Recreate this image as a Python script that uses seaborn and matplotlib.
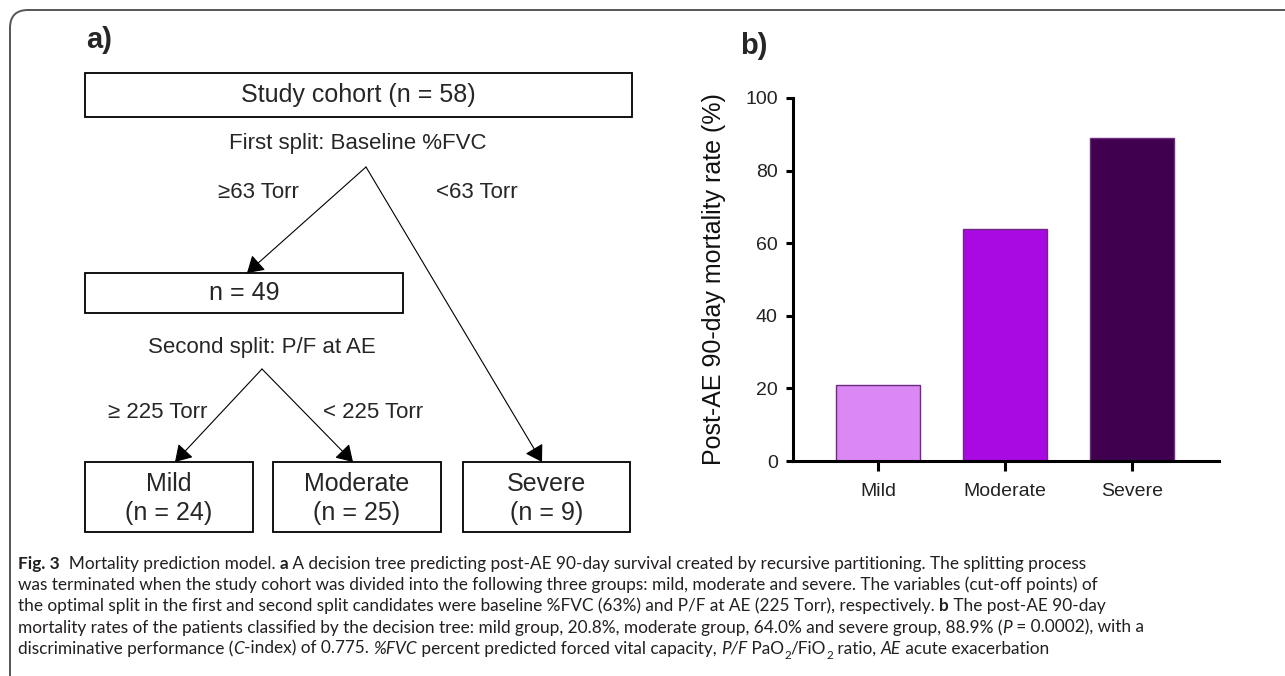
import numpy as np
import pandas as pd
import matplotlib
matplotlib.use("Agg")
import matplotlib.pyplot as plt
import seaborn as sns
from matplotlib.patches import Rectangle, PathPatch
from matplotlib.path import Path

# ---------------- data ----------------
groups = ["Mild", "Moderate", "Severe"]
mortality = [20.8, 64.0, 88.9]
group_n = [24, 25, 9]
bar_colors = ["#DC88F4", "#AA0AE2", "#40004F"]
y_ticks = [0, 20, 40, 60, 80, 100]
y_label = "Post-AE 90-day mortality rate (%)"

cohort_n = 58
node2_n = 49
split1_label = "First split: Baseline %FVC"
split1_branches = ["\u226563 Torr", "<63 Torr"]
split2_label = "Second split: P/F at AE"
split2_branches = ["\u2265 225 Torr", "< 225 Torr"]

caption_lines = [
    [("Fig. 3", "b"), ("  Mortality prediction model. ", "n"), ("a", "b"),
     (" A decision tree predicting post-AE 90-day survival created by recursive partitioning. The splitting process", "n")],
    [("was terminated when the study cohort was divided into the following three groups: mild, moderate and severe. The variables (cut-off points) of", "n")],
    [("the optimal split in the first and second split candidates were baseline %FVC (63%) and P/F at AE (225 Torr), respectively. ", "n"),
     ("b", "b"), (" The post-AE 90-day", "n")],
    [("mortality rates of the patients classified by the decision tree: mild group, 20.8%, moderate group, 64.0% and severe group, 88.9% (", "n"),
     ("P", "i"), (" = 0.0002), with a", "n")],
    [("discriminative performance (", "n"), ("C", "i"), ("-index) of 0.775. ", "n"), ("%FVC", "i"),
     (" percent predicted forced vital capacity, ", "n"), ("P/F", "i"), (" PaO", "n"), ("2", "sub"),
     ("/FiO", "n"), ("2", "sub"), (" ratio, ", "n"), ("AE", "i"), (" acute exacerbation", "n")],
]

# ---------------- style ----------------
sns.set_theme(style="white")
plt.rcParams["font.family"] = ["Liberation Sans", "DejaVu Sans"]
CAP_FAMILY = ["Lato", "DejaVu Sans"]
CAP_COLOR = "#231F20"

W, H = 1285, 676
fig = plt.figure(figsize=(W / 100, H / 100), dpi=100)
fig.patch.set_facecolor("white")

over = fig.add_axes([0, 0, 1, 1])
over.set_xlim(0, W)
over.set_ylim(H, 0)
over.axis("off")

# frame (rounded top-left corner)
verts = [(10, H), (10, 28), (10, 10), (28, 10), (W, 10)]
codes = [Path.MOVETO, Path.LINETO, Path.CURVE3, Path.CURVE3, Path.LINETO]
over.add_patch(PathPatch(Path(verts, codes), fill=False, ec="#555555", lw=1.4))

# panel labels
over.text(86, 40, "a)", fontsize=21, fontweight="bold", va="center", ha="left")
over.text(740, 46, "b)", fontsize=21, fontweight="bold", va="center", ha="left")

# ---------------- tree ----------------
def box(x0, y0, x1, y1):
    over.add_patch(Rectangle((x0, y0), x1 - x0, y1 - y0, fill=False, ec="black", lw=1.3))

def arrow(p0, p1, head=True):
    style = "-|>,head_length=1.0,head_width=0.62" if head else "-"
    over.annotate("", xy=p1, xytext=p0,
                  arrowprops=dict(arrowstyle=style, lw=0.8, color="black",
                                  shrinkA=0, shrinkB=0, mutation_scale=10))

TS = 18
SS = 16
box(85, 73, 632, 117)
over.text(358, 95, f"Study cohort (n = {cohort_n})", fontsize=TS, ha="center", va="center")
over.text(358, 144, split1_label, fontsize=SS, ha="center", va="center")
apex1 = (366, 167)
over.text(258, 192, split1_branches[0], fontsize=SS, ha="center", va="center")
over.text(477, 192, split1_branches[1], fontsize=SS, ha="center", va="center")

box(85, 273, 403, 313)
over.text(244, 293, f"n = {node2_n}", fontsize=TS, ha="center", va="center")
arrow(apex1, (247, 273))

over.text(262, 348, split2_label, fontsize=SS, ha="center", va="center")
apex2 = (262, 369)
over.text(158, 413, split2_branches[0], fontsize=SS, ha="center", va="center")
over.text(373, 413, split2_branches[1], fontsize=SS, ha="center", va="center")

leaf_x = [(85, 253), (273, 441), (463, 630)]
leaf_tip = [175, 353, 542]
leaf_top, leaf_bot = 462, 532
for (x0, x1), g, n in zip(leaf_x, groups, group_n):
    box(x0, leaf_top, x1, leaf_bot)
    cx = (x0 + x1) / 2
    over.text(cx, 484, g, fontsize=TS, ha="center", va="center")
    over.text(cx, 513, f"(n = {n})", fontsize=TS, ha="center", va="center")
arrow(apex2, (leaf_tip[0], leaf_top))
arrow(apex2, (leaf_tip[1], leaf_top))
arrow(apex1, (leaf_tip[2], leaf_top))

# ---------------- caption ----------------
renderer = fig.canvas.get_renderer()

def seg_kw(style, size):
    kw = dict(family=CAP_FAMILY, color=CAP_COLOR, fontsize=size)
    if style == "b":
        kw["fontweight"] = "bold"
    elif style == "i":
        kw["fontstyle"] = "italic"
    elif style == "sub":
        kw["fontsize"] = size * 0.68
    return kw

def text_width(s, kw):
    t = over.text(0, 0, "|" + s + "|", **kw)
    t2 = over.text(0, 0, "||", **kw)
    w = t.get_window_extent(renderer).width - t2.get_window_extent(renderer).width
    t.remove()
    t2.remove()
    return w

def line_width(segs, size):
    return sum(text_width(s, seg_kw(st, size)) for s, st in segs)

# size chosen so the first three lines span roughly as in the reference
target = (1059 + 1105 + 1087) / 3.0
measured = sum(line_width(caption_lines[k], 10) for k in range(3)) / 3.0
cap_size = 10 * target / measured

def draw_line(segs, x, y, size):
    for s, st in segs:
        kw = seg_kw(st, size)
        dy = size * 100 / 72 * 0.28 if st == "sub" else 0
        over.text(x, y + dy, s, ha="left", va="baseline", **kw)
        x += text_width(s, kw)

for i, segs in enumerate(caption_lines):
    draw_line(segs, 18, 569 + i * 21.2, cap_size)

# ---------------- bar chart ----------------
def px_axes(x0, y0, x1, y1):
    return fig.add_axes([x0 / W, 1 - y1 / H, (x1 - x0) / W, (y1 - y0) / H])

ax = px_axes(793, 98, 1219, 461)
df = pd.DataFrame({"group": groups, "rate": mortality})
sns.barplot(data=df, x="group", y="rate", hue="group",
            palette=dict(zip(groups, bar_colors)), saturation=1,
            width=0.66, edgecolor="#6E2A82", linewidth=1.0,
            legend=False, ax=ax)
ax.set_facecolor("none")
ax.set_xlim(-0.669, 2.685)
ax.set_ylim(0, 100)
ax.set_yticks(y_ticks)
ax.set_yticklabels([str(v) for v in y_ticks])
sns.despine(ax=ax)
for sp in ["left", "bottom"]:
    ax.spines[sp].set_color("black")
    ax.spines[sp].set_linewidth(2.2)
ax.tick_params(axis="y", direction="out", length=5, width=2.2, labelsize=14,
               pad=6, color="black", labelcolor="#222222", left=True)
ax.tick_params(axis="x", direction="out", length=7, width=2.2, labelsize=14,
               pad=9, color="black", labelcolor="#222222", bottom=True)
ax.set_xlabel("")
ax.set_ylabel(y_label, fontsize=18, color="#111111")
ax.yaxis.set_label_coords(-0.157, 0.5)

fig.savefig("out.png", dpi=100, facecolor="white")
